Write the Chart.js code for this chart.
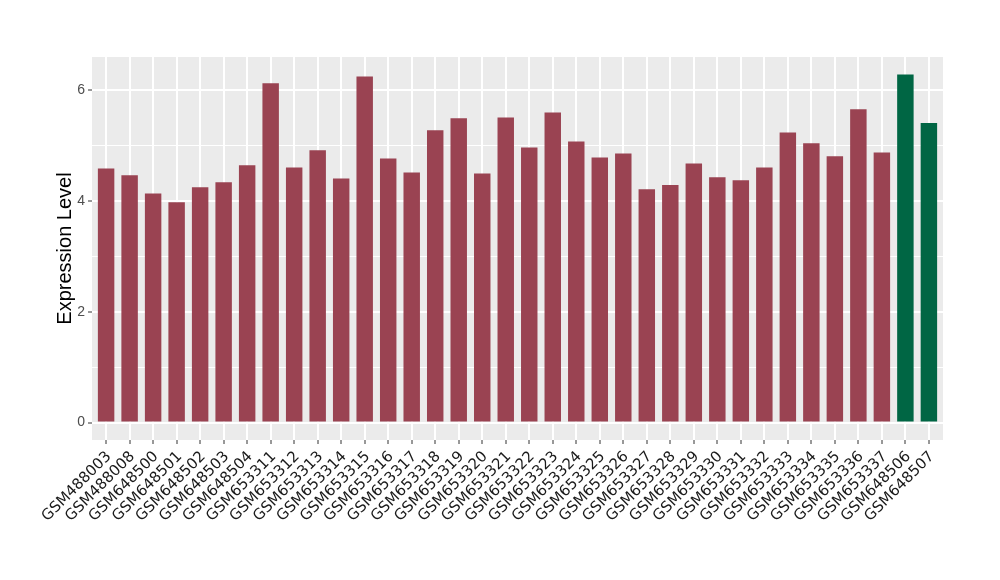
<!DOCTYPE html>
<html>
<head>
<meta charset="utf-8">
<script src="https://cdn.jsdelivr.net/npm/chart.js@4.4.1/dist/chart.umd.min.js"></script>
<style>
  html, body { margin: 0; padding: 0; background: #ffffff; }
  #wrap { width: 1000px; height: 580px; }
</style>
</head>
<body>
<div id="wrap"><canvas id="c" width="1000" height="580"></canvas></div>
<script>
const categories = [
  'GSM488003','GSM488008','GSM648500','GSM648501','GSM648502','GSM648503','GSM648504',
  'GSM653311','GSM653312','GSM653313','GSM653314','GSM653315','GSM653316','GSM653317',
  'GSM653318','GSM653319','GSM653320','GSM653321','GSM653322','GSM653323','GSM653324',
  'GSM653325','GSM653326','GSM653327','GSM653328','GSM653329','GSM653330','GSM653331',
  'GSM653332','GSM653333','GSM653334','GSM653335','GSM653336','GSM653337',
  'GSM648506','GSM648507'
];
const expression = [
  4.59, 4.47, 4.14, 3.98, 4.25, 4.34, 4.65,
  6.13, 4.61, 4.92, 4.41, 6.25, 4.77, 4.52,
  5.28, 5.50, 4.50, 5.51, 4.97, 5.60, 5.08,
  4.79, 4.86, 4.215, 4.29, 4.68, 4.43, 4.38,
  4.61, 5.24, 5.045, 4.81, 5.66, 4.88,
  6.29, 5.41
];
const highlighted = ['GSM648506', 'GSM648507'];
const yTickValues = [0, 1, 2, 3, 4, 5, 6];
const yTickLabels = ['0', '', '2', '', '4', '', '6'];

const RED = '#9A4352';
const GREEN = '#006644';
const PANEL = '#EBEBEB';

const yMax = Math.max(...expression);
const yPad = yMax * 0.05;

const panelBg = {
  id: 'panelBg',
  beforeDraw(chart) {
    const a = chart.chartArea;
    const ctx = chart.ctx;
    ctx.save();
    ctx.fillStyle = PANEL;
    ctx.fillRect(a.left, a.top, a.right - a.left, a.bottom - a.top);
    ctx.restore();
  }
};

new Chart(document.getElementById('c'), {
  type: 'bar',
  data: {
    datasets: [{
      data: expression.map((v, i) => ({ x: i, y: v })),
      backgroundColor: categories.map(c => highlighted.includes(c) ? GREEN : RED),
      borderWidth: 0,
      barPercentage: 0.7,
      categoryPercentage: 1.0
    }]
  },
  options: {
    responsive: false,
    animation: false,
    devicePixelRatio: 1,
    layout: { padding: { top: 57, right: 57, left: 0, bottom: 0 } },
    plugins: { legend: { display: false }, tooltip: { enabled: false } },
    scales: {
      x: {
        type: 'linear',
        offset: false,
        min: -0.6,
        max: categories.length - 1 + 0.6,
        afterBuildTicks(scale) { scale.ticks = categories.map((c, i) => ({ value: i })); },
        afterFit(scale) { scale.height = 140; },
        border: { display: false },
        grid: {
          offset: false,
          color: '#FFFFFF',
          lineWidth: 2,
          drawTicks: true,
          tickLength: 4,
          tickColor: '#333333',
          tickWidth: 1
        },
        ticks: {
          autoSkip: false,
          minRotation: 45,
          maxRotation: 45,
          padding: 4,
          labelOffset: 3,
          color: '#1A1A1A',
          font: { family: 'DejaVu Sans', size: 15 },
          callback: (v) => categories[v]
        }
      },
      y: {
        type: 'linear',
        min: -yPad,
        max: yMax + yPad,
        afterBuildTicks(scale) { scale.ticks = yTickValues.map(v => ({ value: v })); },
        afterFit(scale) { scale.width = 92; },
        border: { display: false },
        grid: {
          color: '#FFFFFF',
          lineWidth: (ctx) => (ctx.tick && ctx.tick.value % 2 === 0) ? 2 : 1,
          drawTicks: true,
          tickLength: 4,
          tickColor: (ctx) => (ctx.tick && ctx.tick.value % 2 === 0) ? '#333333' : 'rgba(0,0,0,0)',
          tickWidth: 1
        },
        ticks: {
          padding: 3,
          color: '#4D4D4D',
          font: { family: 'Liberation Sans', size: 14 },
          callback: (v) => yTickLabels[yTickValues.indexOf(v)]
        },
        title: {
          display: true,
          text: 'Expression Level',
          color: '#000000',
          font: { family: 'Liberation Sans', size: 20 },
          padding: { top: 53, bottom: 0 }
        }
      }
    }
  },
  plugins: [panelBg]
});
</script>
</body>
</html>
